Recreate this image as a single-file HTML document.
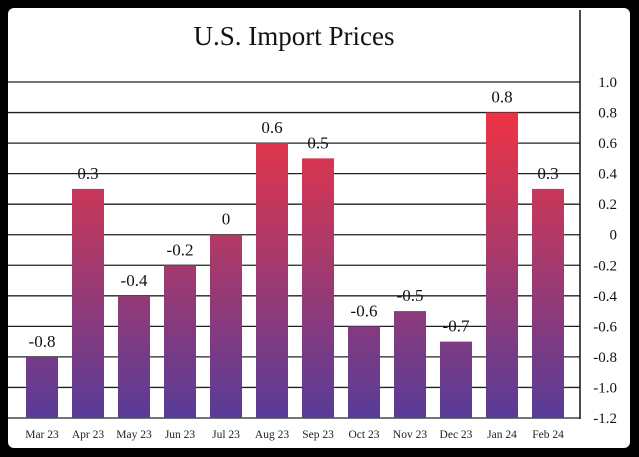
<!DOCTYPE html>
<html><head><meta charset="utf-8"><style>
html,body{margin:0;padding:0;background:#000;}
svg{display:block;font-family:"Liberation Serif",serif;}
</style></head><body>
<svg width="639" height="457" viewBox="0 0 639 457">
<defs>
<linearGradient id="g" gradientUnits="userSpaceOnUse" x1="0" y1="112" x2="0" y2="418">
<stop offset="0" stop-color="#ee3344"/>
<stop offset="0.5" stop-color="#a43a6e"/>
<stop offset="1" stop-color="#573c98"/>
</linearGradient>
</defs>
<rect x="0" y="0" width="639" height="457" fill="#000"/>
<rect x="8" y="8" width="622" height="440" rx="6" fill="#fff"/>
<text x="294" y="45" text-anchor="middle" font-size="27" fill="#111">U.S. Import Prices</text>
<g id="grid"></g>
<g id="bars"></g>
<g id="labels"></g>
<line x1="580" y1="10" x2="580" y2="419" stroke="#111" stroke-width="1.5"/>
</svg>
<script>
const categories=["Mar 23","Apr 23","May 23","Jun 23","Jul 23","Aug 23","Sep 23","Oct 23","Nov 23","Dec 23","Jan 24","Feb 24"];
const values=[-0.8,0.3,-0.4,-0.2,0,0.6,0.5,-0.6,-0.5,-0.7,0.8,0.3];
const valueLabels=["-0.8","0.3","-0.4","-0.2","0","0.6","0.5","-0.6","-0.5","-0.7","0.8","0.3"];
const ticks=[1.0,0.8,0.6,0.4,0.2,0,-0.2,-0.4,-0.6,-0.8,-1.0,-1.2];
const tickLabels=["1.0","0.8","0.6","0.4","0.2","0","-0.2","-0.4","-0.6","-0.8","-1.0","-1.2"];
const NS="http://www.w3.org/2000/svg";
const yMin=-1.2,yMax=1.0,yTop=82,yBot=418;
function y(v){return yBot-(v-yMin)/(yMax-yMin)*(yBot-yTop);}
function x(i){return 42+i*46;}
const bw=32;
const grid=document.getElementById('grid'),bars=document.getElementById('bars'),labels=document.getElementById('labels');
function mk(tag,attrs,parent,txt){const e=document.createElementNS(NS,tag);for(const k in attrs)e.setAttribute(k,attrs[k]);if(txt!==undefined)e.textContent=txt;parent.appendChild(e);return e;}
ticks.forEach((t,i)=>{
  const l=mk('line',{x1:8,x2:580,y1:y(t),y2:y(t),stroke:'#222','stroke-width':1.3},grid);
  
  
  const tx=mk('text',{x:617,y:y(t)+5,'text-anchor':'end','font-size':15,fill:'#111'},labels,tickLabels[i]);
  
  
});
values.forEach((v,i)=>{
  const top=y(v);
  const r=mk('rect',{x:x(i)-bw/2,y:top,width:bw,height:yBot-top,fill:'url(#g)'},bars);
  
  
  const vl=mk('text',{x:x(i),y:top-10,'text-anchor':'middle','font-size':17,fill:'#111'},labels,valueLabels[i]);
  
  
  const cl=mk('text',{x:x(i),y:438,'text-anchor':'middle','font-size':11.5,fill:'#222'},labels,categories[i]);
  
  
});
</script>
</body></html>
